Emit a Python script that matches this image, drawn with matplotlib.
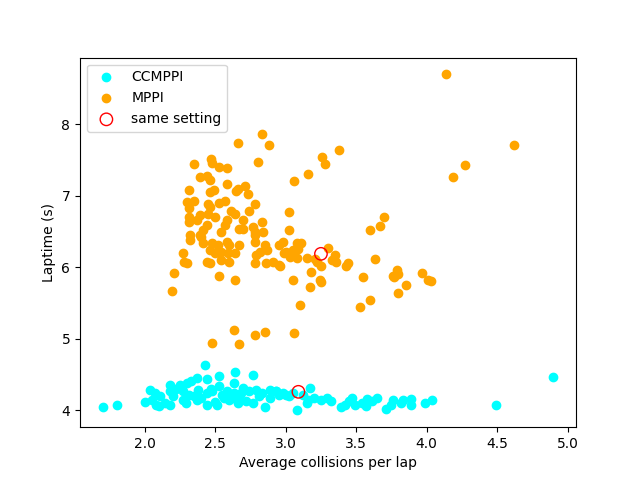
import matplotlib
matplotlib.use("Agg")
import matplotlib.pyplot as plt

mppi_x = [4.14, 4.62, 4.27, 4.19, 3.38, 3.26, 3.28, 3.16, 3.06, 2.83, 2.88, 2.66, 2.80,
          2.35, 2.47, 2.48, 2.53, 2.58, 2.39, 2.44, 2.46, 2.58, 2.31, 2.66, 2.65, 2.71, 2.73,
          2.49, 2.46, 2.30, 2.35, 2.31, 2.31, 2.31, 2.45, 2.46, 2.53, 2.57, 2.78, 2.74, 2.61,
          2.64, 2.45, 2.50, 2.39, 2.37, 2.58, 2.57, 2.70, 3.02, 3.02, 2.83, 2.44, 2.41, 2.39,
          2.54, 2.67, 2.70, 2.77, 2.78, 2.84, 2.32, 2.32, 2.40, 2.41, 2.48, 2.52, 2.58, 2.60,
          2.67, 2.46, 2.50, 2.54, 2.59, 2.64, 2.27, 2.28, 2.30, 2.44, 2.46, 2.54, 2.60, 2.78,
          2.78, 2.85, 2.82, 2.79, 2.78, 2.86, 2.91, 2.95, 2.95, 2.98, 3.00, 3.04, 3.08, 3.11,
          3.08, 3.15, 3.30, 3.22, 3.25, 3.35, 3.36, 2.21, 2.19, 2.53, 2.64, 3.05, 3.18, 3.17,
          3.24, 3.25, 3.10, 2.63, 2.85, 2.78, 3.06, 2.48, 2.67, 3.70, 3.67, 3.60, 2.87, 2.99,
          3.05, 3.03, 3.09, 3.44, 3.43, 3.63, 2.96, 3.55, 3.79, 3.76, 3.80, 3.77, 3.97, 4.01,
          4.03, 3.85, 3.80, 3.60, 3.53, 3.33, 3.21]
mppi_y = [8.70, 7.71, 7.43, 7.26, 7.64, 7.55, 7.44, 7.30, 7.21, 7.87, 7.71, 7.74, 7.48,
          7.44, 7.51, 7.46, 7.40, 7.39, 7.26, 7.28, 7.22, 7.17, 7.08, 7.10, 7.07, 7.14, 7.03,
          7.08, 7.05, 6.92, 6.93, 6.83, 6.71, 6.64, 6.89, 6.84, 6.90, 6.93, 6.89, 6.79, 6.79,
          6.75, 6.75, 6.71, 6.73, 6.66, 6.66, 6.59, 6.67, 6.77, 6.52, 6.63, 6.59, 6.52, 6.45,
          6.50, 6.54, 6.54, 6.57, 6.50, 6.50, 6.45, 6.38, 6.43, 6.34, 6.34, 6.31, 6.36, 6.31,
          6.31, 6.24, 6.20, 6.22, 6.20, 6.20, 6.20, 6.08, 6.06, 6.08, 6.06, 6.10, 6.08, 6.36,
          6.45, 6.31, 6.22, 6.17, 6.06, 6.06, 6.08, 6.03, 6.31, 6.36, 6.22, 6.20, 6.34, 6.34,
          6.13, 6.13, 6.27, 6.08, 6.02, 6.17, 6.08, 5.92, 5.67, 5.88, 5.82, 5.82, 5.94, 5.72,
          5.83, 5.79, 5.47, 5.13, 5.10, 5.05, 5.08, 4.94, 4.93, 6.70, 6.58, 6.52, 6.25, 6.20,
          6.24, 6.15, 6.26, 6.06, 6.02, 6.12, 6.02, 5.87, 5.97, 5.88, 5.91, 5.86, 5.92, 5.82,
          5.81, 5.75, 5.64, 5.55, 5.44, 6.10, 6.12]

cc_x = [1.70, 1.80, 2.00, 2.04, 2.07, 2.08, 2.18, 2.18, 2.18, 2.25, 2.27, 2.30, 2.33,
        2.37, 2.38, 2.35, 2.43, 2.44, 2.53, 2.64, 2.77, 2.63, 2.44, 2.48, 2.53, 2.58, 2.63,
        2.70, 2.74, 2.79, 2.83, 2.89, 2.93, 2.27, 2.20, 2.11, 2.05, 2.44, 2.51, 2.37, 2.56,
        2.60, 2.67, 2.72, 2.77, 2.85, 2.89, 2.93, 2.98, 3.02, 3.17, 3.16, 3.15, 3.08, 3.25,
        3.29, 3.32, 3.39, 3.42, 3.45, 3.47, 3.49, 3.54, 3.57, 3.58, 3.61, 3.65, 3.71, 3.75,
        3.76, 3.82, 3.83, 3.89, 3.89, 3.99, 4.04, 4.49, 4.90, 2.14, 2.22, 2.31, 2.40, 2.47,
        2.55, 2.62, 2.68, 2.81, 2.95, 3.05, 3.12, 3.20, 2.10, 2.29, 2.50, 2.66, 3.00]
cc_y = [4.05, 4.08, 4.12, 4.28, 4.25, 4.08, 4.36, 4.27, 4.08, 4.36, 4.27, 4.38, 4.41,
        4.46, 4.29, 4.20, 4.64, 4.44, 4.48, 4.54, 4.49, 4.38, 4.25, 4.27, 4.34, 4.27, 4.25,
        4.32, 4.27, 4.29, 4.25, 4.29, 4.27, 4.15, 4.20, 4.20, 4.15, 4.08, 4.08, 4.15, 4.18,
        4.15, 4.20, 4.13, 4.11, 4.05, 4.18, 4.27, 4.25, 4.20, 4.32, 4.15, 4.11, 4.00, 4.15,
        4.18, 4.13, 4.05, 4.08, 4.13, 4.18, 4.07, 4.11, 4.06, 4.16, 4.13, 4.18, 4.02, 4.08,
        4.15, 4.11, 4.14, 4.16, 4.07, 4.11, 4.14, 4.08, 4.47, 4.10, 4.30, 4.22, 4.18, 4.30,
        4.22, 4.17, 4.24, 4.20, 4.22, 4.24, 4.22, 4.18, 4.06, 4.10, 4.12, 4.10, 4.22]

same_x = [3.25, 3.09]
same_y = [6.19, 4.26]

fig, ax = plt.subplots(figsize=(6.4, 4.8), dpi=100)
ax.scatter(cc_x, cc_y, color='cyan', label='CCMPPI')
ax.scatter(mppi_x, mppi_y, color='orange', label='MPPI')
ax.scatter(same_x, same_y, s=80, facecolors='none', edgecolors='red', label='same setting')
ax.set_xlabel('Average collisions per lap')
ax.set_ylabel('Laptime (s)')
ax.legend(loc='upper left')
fig.savefig('out.png', dpi=100)
